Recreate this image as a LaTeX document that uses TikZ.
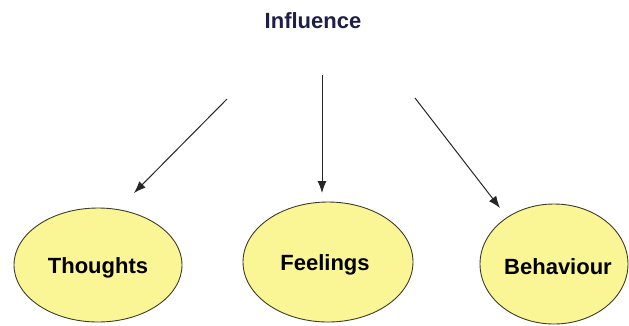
\documentclass[tikz,border=0pt]{standalone}
\usepackage{fontspec}
\setmainfont{Liberation Sans}
\usetikzlibrary{arrows.meta,shapes.geometric}
\definecolor{ellfill}{RGB}{250,246,150}
\definecolor{ellline}{RGB}{60,60,40}
\definecolor{navy}{RGB}{30,30,70}
\tikzset{
  oval/.style={ellipse, draw=ellline, line width=0.9pt, fill=ellfill, inner sep=0pt},
  lbl/.style={font=\fontsize{22}{24}\selectfont\bfseries},
  arr/.style={-{Latex[length=12pt,width=9pt]}, line width=1pt, black!85}
}
\begin{document}
\begin{tikzpicture}[x=1pt,y=-1pt]
\useasboundingbox (0,0) rectangle (629,325);
\node[lbl, text=navy] (infl) at (313,21) {Influence};
\node[oval, minimum width=168pt, minimum height=114pt] (th) at (98,265) {};
\node[lbl] (tht) at (98,268) {Thoughts};
\node[oval, minimum width=170pt, minimum height=120pt] (fe) at (328,262) {};
\node[lbl] (fet) at (325,265) {Feelings};
\node[oval, minimum width=148pt, minimum height=120pt] (be) at (554,264) {};
\node[lbl] (bet) at (558,267) {Behaviour};
\coordinate (s1) at (227,99);
\coordinate (t1) at (134,193);
\coordinate (s2) at (322,75);
\coordinate (t2) at (322,193);
\coordinate (s3) at (415,98);
\coordinate (t3) at (500,208);
\draw[arr] (s1) -- (t1);
\draw[arr] (s2) -- (t2);
\draw[arr] (s3) -- (t3);
\end{tikzpicture}
\end{document}
